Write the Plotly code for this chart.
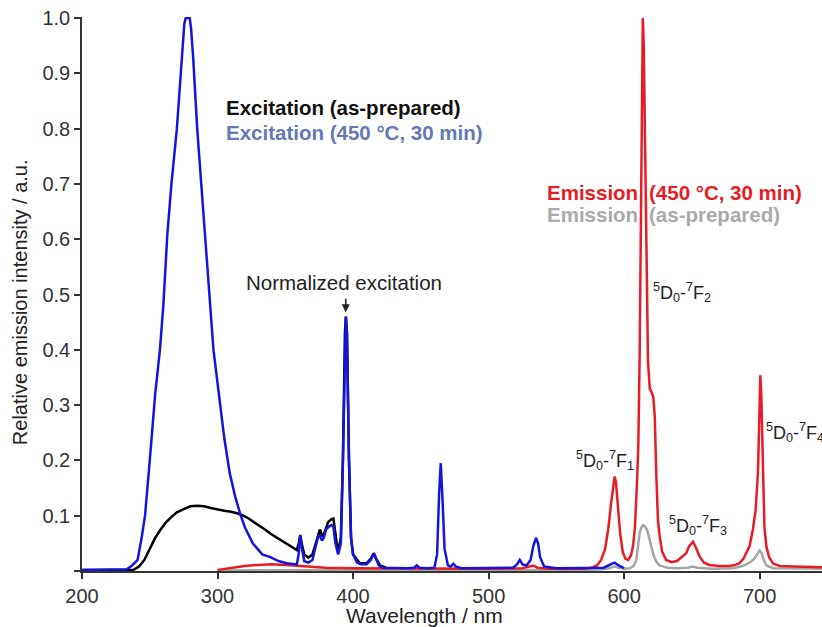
import plotly.graph_objects as go

# ---------------- data ----------------
exc_450_nm = [200, 230, 233, 237, 241, 244, 246.5, 250, 254, 257.5, 260, 263, 266, 270, 273, 275.5, 276.5,
              279.5, 280.5, 282, 285, 288, 291, 294, 297, 300, 302, 305, 309, 313, 316.5, 320, 326, 333,
              339, 345, 351, 356, 358.5, 359.8, 361, 362.3, 364, 367, 370, 372, 374, 375.5, 377, 378.5,
              380, 382, 384, 385.5, 387, 389, 391, 392.5, 394, 394.7, 395.5, 397, 398.5, 400, 403, 406,
              410, 413, 415.3, 417, 419, 422, 430, 440, 445, 447, 449, 455, 460, 462, 463.5, 464.7, 466,
              467.5, 470, 472, 474, 476, 480, 490, 500, 510, 518, 521, 523, 525, 528, 531, 533, 535,
              536.5, 538, 541, 550, 570, 585, 590, 593, 596, 600]
exc_450_val = [0.002, 0.002, 0.003, 0.01, 0.02, 0.06, 0.10, 0.20, 0.32, 0.40, 0.48, 0.61, 0.70, 0.80, 0.90, 0.99, 1.0,
               1.0, 0.98, 0.93, 0.80, 0.70, 0.61, 0.50, 0.40, 0.34, 0.30, 0.24, 0.177, 0.135, 0.105, 0.08, 0.05, 0.03,
               0.025, 0.018, 0.014, 0.012, 0.012, 0.03, 0.065, 0.04, 0.018, 0.015, 0.02, 0.04, 0.06, 0.064, 0.055, 0.06,
               0.075, 0.08, 0.083, 0.08, 0.05, 0.03, 0.05, 0.2, 0.43, 0.46, 0.43, 0.2, 0.06, 0.03, 0.015, 0.012,
               0.012, 0.02, 0.032, 0.022, 0.01, 0.006, 0.005, 0.005, 0.006, 0.01, 0.006, 0.005, 0.006, 0.03, 0.14, 0.195, 0.13,
               0.04, 0.01, 0.008, 0.013, 0.008, 0.005, 0.005, 0.005, 0.005, 0.006, 0.012, 0.02, 0.012, 0.01, 0.02, 0.045, 0.06,
               0.05, 0.025, 0.008, 0.005, 0.005, 0.006, 0.012, 0.015, 0.01, 0.005]

exc_prep_nm = [200, 238, 242, 246, 250, 254, 258, 262, 266, 270, 275, 280, 285, 290, 295, 300, 305, 310, 315,
               319, 323, 327, 331, 335, 340, 345, 350, 355, 358.5, 360, 361, 362.5, 364, 367, 370, 372.5,
               375.5, 377.5, 379, 381.5, 384, 385.5, 387, 388.8, 391, 392.5, 394, 394.7, 395.5, 397, 398.5,
               400, 405, 410, 413, 415.3, 417, 420, 425]
exc_prep_val = [0.002, 0.002, 0.008, 0.02, 0.04, 0.06, 0.075, 0.088, 0.098, 0.106, 0.112, 0.117, 0.118, 0.117, 0.114,
                0.111, 0.109, 0.107, 0.104, 0.1, 0.095, 0.088, 0.082, 0.075, 0.066, 0.058, 0.05, 0.043, 0.038, 0.05,
                0.065, 0.045, 0.03, 0.024, 0.03, 0.05, 0.075, 0.062, 0.07, 0.088, 0.094, 0.095, 0.07, 0.034, 0.06,
                0.2, 0.43, 0.46, 0.43, 0.2, 0.06, 0.03, 0.014, 0.014, 0.022, 0.032, 0.022, 0.01, 0.005]

em_450_nm = [300, 310, 320, 330, 340, 350, 360, 370, 380, 400, 450, 500, 525, 530, 533, 536, 545, 570, 576,
             580, 583, 586, 588.5, 590.5, 592, 593, 594, 595.5, 597, 599, 601, 603, 605, 606.6, 608, 609.5,
             610.5, 611.5, 612.5, 613.3, 613.8, 614.5, 615.5, 616.4, 617.6, 618.9, 620, 621.5, 622.6, 623.8,
             625, 626.3, 628, 631, 635, 639, 642, 645.8, 648, 650.8, 653, 655.7, 659, 663, 670, 678, 682,
             685, 688, 690.5, 692.6, 695, 697, 698.8, 700, 700.5, 701.2, 702.4, 703.5, 705, 707, 710, 715,
             725, 746]
em_450_val = [0.002, 0.006, 0.009, 0.011, 0.012, 0.011, 0.009, 0.007, 0.006, 0.005, 0.004, 0.004, 0.005, 0.008, 0.01,
              0.006, 0.004, 0.004, 0.006, 0.01, 0.02, 0.04, 0.08, 0.125, 0.16, 0.171, 0.16, 0.115, 0.07, 0.034, 0.022,
              0.02, 0.028, 0.045, 0.08, 0.16, 0.23, 0.4, 0.7, 0.95, 1.0, 0.95, 0.75, 0.56, 0.38, 0.33, 0.325, 0.315,
              0.28, 0.17, 0.09, 0.062, 0.035, 0.02, 0.016, 0.018, 0.025, 0.032, 0.045, 0.053, 0.042, 0.026, 0.015,
              0.011, 0.009, 0.009, 0.011, 0.014, 0.022, 0.033, 0.045, 0.075, 0.11, 0.18, 0.31, 0.354, 0.32, 0.16,
              0.08, 0.044, 0.025, 0.013, 0.009, 0.008, 0.007]

em_prep_nm = [300, 400, 570, 585, 590, 593, 596, 600, 604, 607, 609, 610.5, 611.5, 613, 614, 615.5, 617, 618.5,
              620, 621.5, 623.5, 626, 632, 640, 647, 650.5, 654, 665, 680, 686, 690, 693, 696, 698.5, 700,
              701.5, 703, 705, 710, 746]
em_prep_val = [0.001, 0.002, 0.002, 0.003, 0.006, 0.008, 0.006, 0.004, 0.005, 0.009, 0.02, 0.045, 0.07, 0.08, 0.083,
               0.08, 0.074, 0.06, 0.044, 0.03, 0.018, 0.01, 0.006, 0.005, 0.006, 0.008, 0.006, 0.004, 0.005, 0.008,
               0.012, 0.016, 0.022, 0.03, 0.037, 0.032, 0.02, 0.01, 0.005, 0.004]

x_ticks = [200, 300, 400, 500, 600, 700]
y_ticks = [0, 0.1, 0.2, 0.3, 0.4, 0.5, 0.6, 0.7, 0.8, 0.9, 1.0]
y_tick_text = ["", "0.1", "0.2", "0.3", "0.4", "0.5", "0.6", "0.7", "0.8", "0.9", "1.0"]

# ---------------- figure ----------------
BLUE = "rgb(20,20,225)"
RED = "rgb(232,28,36)"
GRAY = "rgb(165,165,165)"
FONT = "Liberation Sans, Arial, sans-serif"

fig = go.Figure()
fig.add_trace(go.Scatter(x=em_prep_nm, y=em_prep_val, mode="lines", line=dict(color=GRAY, width=2.5)))
fig.add_trace(go.Scatter(x=em_450_nm, y=em_450_val, mode="lines", line=dict(color=RED, width=2.5)))
fig.add_trace(go.Scatter(x=exc_prep_nm, y=exc_prep_val, mode="lines", line=dict(color="black", width=2.5)))
fig.add_trace(go.Scatter(x=exc_450_nm, y=exc_450_val, mode="lines", line=dict(color=BLUE, width=2.5)))

ann = []
def txt(x, y, s, color="#222", size=20, bold=False, xanchor="left", xref="x", yref="y", angle=0):
    if bold:
        s = "<b>" + s + "</b>"
    ann.append(dict(x=x, y=y, xref=xref, yref=yref, text=s, showarrow=False, xanchor=xanchor,
                    yanchor="middle", textangle=angle, font=dict(family=FONT, size=size, color=color)))

txt(305.0, 0.839, "Excitation (as-prepared)", color="#111", bold=True, size=20.5)
txt(305.0, 0.794, "Excitation (450 °C, 30 min)", color="rgb(102,120,180)", bold=True, size=20.5)
txt(541.5, 0.685, "Emission", color=RED, bold=True, size=20.5)
txt(617.0, 0.685, "(450 °C, 30 min)", color=RED, bold=True, size=20.5)
txt(541.5, 0.644, "Emission", color="rgb(170,170,170)", bold=True, size=20.5)
txt(617.0, 0.644, "(as-prepared)", color="rgb(170,170,170)", bold=True, size=20.5)
txt(319.5, 0.521, "Normalized excitation", size=20.5)

lab = "<sup>5</sup>D<sub>0</sub>-<sup>7</sup>F<sub>%d</sub>"
txt(619.5, 0.503, lab % 2, size=18)
txt(563.0, 0.200, lab % 1, size=18)
txt(631.5, 0.083, lab % 3, size=18)
txt(703.5, 0.251, lab % 4, size=18)

txt(453, -0.08, "Wavelength / nm", size=21, xanchor="center", yref="paper")
txt(-0.084, 0.485, "Relative emission intensity / a.u.", size=20, xanchor="center", xref="paper", yref="paper", angle=-90)

ann.append(dict(x=394.6, y=0.468, xref="x", yref="y", text="", showarrow=True, ax=0, ay=-15,
                arrowhead=2, arrowsize=1, arrowwidth=1.6, arrowcolor="#222"))

fig.update_layout(
    width=822, height=627,
    margin=dict(l=82, r=0, t=17, b=56),
    paper_bgcolor="white", plot_bgcolor="white",
    showlegend=False,
    font=dict(family=FONT, size=20, color="#333"),
    annotations=ann,
    xaxis=dict(range=[200, 746], tickvals=x_ticks, ticks="outside", ticklen=6, tickwidth=1.5,
               tickcolor="#333", showline=True, linecolor="#333", linewidth=1.5, showgrid=False,
               zeroline=False, tickfont=dict(size=20, color="#333")),
    yaxis=dict(range=[0, 1.002], tickvals=y_ticks, ticktext=y_tick_text, ticks="outside", ticklen=6,
               tickwidth=1.5, tickcolor="#333", showline=True, linecolor="#333", linewidth=1.5,
               showgrid=False, zeroline=False, tickfont=dict(size=20, color="#333")),
)

fig.write_html("out.html")
